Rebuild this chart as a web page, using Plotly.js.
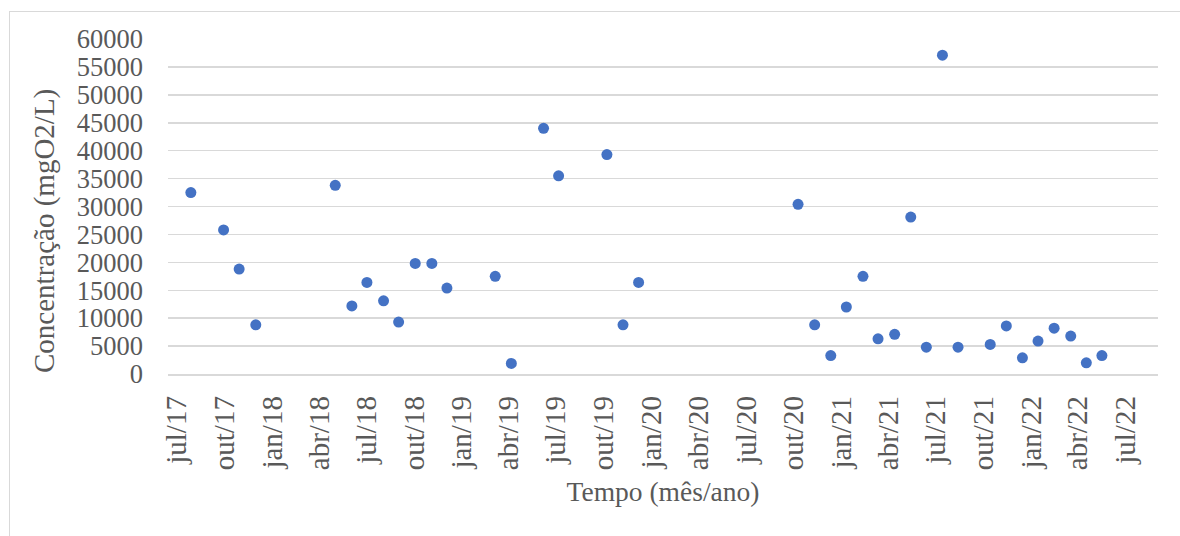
<!DOCTYPE html>
<html>
<head>
<meta charset="utf-8">
<script src="https://cdn.plot.ly/plotly-3.0.1.min.js"></script>
<style>
  html, body { margin: 0; padding: 0; background: #ffffff; }
  #wrap { position: relative; width: 1180px; height: 536px; overflow: hidden; }
  #frame { position: absolute; left: 9px; top: 11px; width: 1200px; height: 560px; border: 1.5px solid #d9d9d9; box-sizing: border-box; pointer-events: none; z-index: 5; }
  #chart { width: 1180px; height: 536px; }
</style>
</head>
<body>
<div id="wrap">
  <div id="chart"></div>
  <div id="frame"></div>
</div>
<script>
// Sampling dates
const dates = [
  '2017-07-28', '2017-09-29', '2017-10-29', '2017-11-30',
  '2018-05-02', '2018-06-03', '2018-07-02', '2018-08-03', '2018-09-01',
  '2018-10-03', '2018-11-04', '2018-12-03',
  '2019-03-06', '2019-04-06', '2019-06-07', '2019-07-06',
  '2019-10-07', '2019-11-07', '2019-12-07',
  '2020-10-09', '2020-11-10', '2020-12-11',
  '2021-01-10', '2021-02-11', '2021-03-12', '2021-04-13', '2021-05-14',
  '2021-06-13', '2021-07-14', '2021-08-13',
  '2021-10-14', '2021-11-14', '2021-12-15',
  '2022-01-14', '2022-02-14', '2022-03-18', '2022-04-17', '2022-05-17'
];

// Concentração (mgO2/L)
const concentration = [
  32500, 25800, 18800, 8800,
  33800, 12200, 16400, 13100, 9300,
  19800, 19800, 15400,
  17500, 1900, 44000, 35500,
  39300, 8800, 16400,
  30400, 8800, 3300,
  12000, 17500, 6300, 7100, 28100,
  4800, 57100, 4800,
  5300, 8600, 2900,
  5900, 8200, 6800, 2000, 3300
];

// X tick positions and labels
const tickDates = [
  '2017-07-01', '2017-10-01', '2018-01-01', '2018-04-01', '2018-07-01',
  '2018-10-01', '2019-01-01', '2019-04-01', '2019-07-01', '2019-10-01',
  '2020-01-01', '2020-04-01', '2020-07-01', '2020-10-01', '2021-01-01',
  '2021-04-01', '2021-07-01', '2021-10-01', '2022-01-01', '2022-04-01',
  '2022-07-01'
];
const tickLabels = [
  'jul/17', 'out/17', 'jan/18', 'abr/18', 'jul/18',
  'out/18', 'jan/19', 'abr/19', 'jul/19', 'out/19',
  'jan/20', 'abr/20', 'jul/20', 'out/20', 'jan/21',
  'abr/21', 'jul/21', 'out/21', 'jan/22', 'abr/22',
  'jul/22'
];

const yTicks = [0, 5000, 10000, 15000, 20000, 25000, 30000, 35000, 40000, 45000, 50000, 55000, 60000];

const xTitle = 'Tempo (mês/ano)';
const yTitle = 'Concentração (mgO2/L)';

const fontFamily = '"Liberation Serif", "Times New Roman", serif';
const textColor = '#595959';

const trace = {
  type: 'scatter',
  mode: 'markers',
  x: dates,
  y: concentration,
  marker: { color: '#4472C4', size: 11, line: { width: 0 } },
  hoverinfo: 'x+y'
};

const layout = {
  width: 1180,
  height: 536,
  margin: { l: 168, r: 22, t: 39, b: 162 },
  paper_bgcolor: '#ffffff',
  plot_bgcolor: '#ffffff',
  showlegend: false,
  font: { family: fontFamily, color: textColor, size: 26 },
  xaxis: {
    type: 'date',
    range: ['2017-06-14', '2022-09-02'],
    tickmode: 'array',
    tickvals: tickDates,
    ticktext: tickLabels,
    tickangle: -90,
    showgrid: false,
    zeroline: false,
    showline: true,
    linecolor: '#d9d9d9',
    linewidth: 1.5,
    ticks: '',
    ticklabelstandoff: 9,
    tickfont: { family: fontFamily, color: textColor, size: 29 },
    title: { text: xTitle, font: { family: fontFamily, color: textColor, size: 27.5 }, standoff: 12 }
  },
  yaxis: {
    range: [0, 60000],
    tickmode: 'array',
    tickvals: yTicks,
    ticktext: yTicks.map(String),
    showgrid: true,
    gridcolor: '#d9d9d9',
    gridwidth: 1.5,
    zeroline: false,
    showline: false,
    ticks: '',
    ticklabelstandoff: 24,
    tickfont: { family: fontFamily, color: textColor, size: 26.5 }
  },
  annotations: [{
    text: yTitle,
    xref: 'paper', yref: 'paper',
    x: -0.1242, y: 0.427,
    xanchor: 'center', yanchor: 'middle',
    textangle: -90,
    showarrow: false,
    font: { family: fontFamily, color: textColor, size: 29 }
  }]
};

Plotly.newPlot('chart', [trace], layout, { displayModeBar: false, staticPlot: true });
</script>
</body>
</html>
